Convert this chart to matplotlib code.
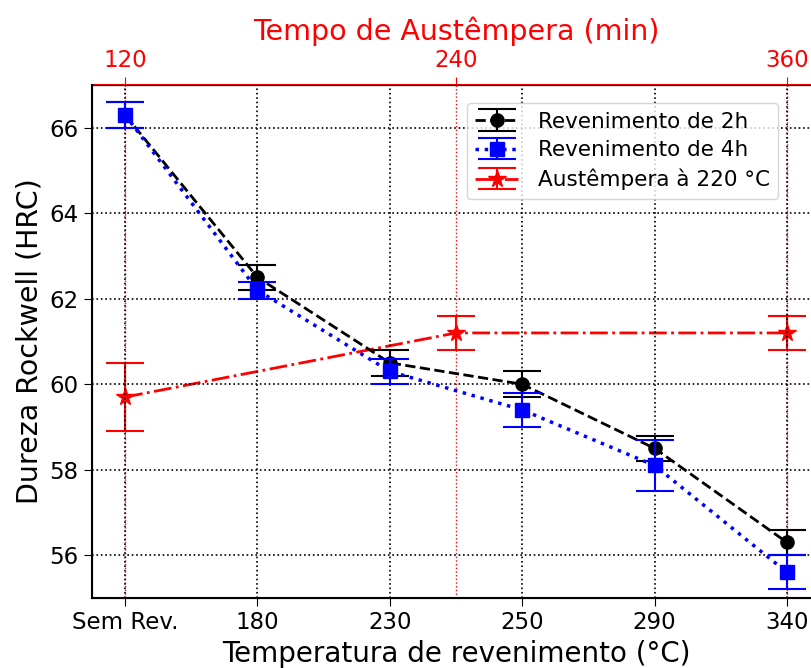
import matplotlib
matplotlib.use("Agg")
import matplotlib.pyplot as plt

# Tempering temperatures (categorical) and hardness results
temps = ["Sem Rev.", "180", "230", "250", "290", "340"]
hrc_2h = [66.3, 62.5, 60.5, 60.0, 58.5, 56.3]
err_2h = [0.3, 0.3, 0.3, 0.3, 0.3, 0.3]
hrc_4h = [66.3, 62.2, 60.3, 59.4, 58.1, 55.6]
err_4h = [0.3, 0.2, 0.3, 0.4, 0.6, 0.4]

# Austempering at 220 C, time in minutes (top axis)
aust_time = [120, 240, 360]
hrc_aust = [59.7, 61.2, 61.2]
err_aust = [0.8, 0.4, 0.4]

fig = plt.figure(figsize=(8.12, 6.68), dpi=100)
ax = fig.add_axes([0.1133, 0.1048, 0.8966, 0.768])

x = list(range(len(temps)))
ax.errorbar(x, hrc_2h, yerr=err_2h, color="black", ls="--", lw=2, marker="o",
            ms=9.5, capsize=14, elinewidth=1.5, capthick=1.5, zorder=3)
ax.errorbar(x, hrc_4h, yerr=err_4h, color="blue", ls=":", lw=2.5, marker="s",
            ms=9.5, capsize=14, elinewidth=1.5, capthick=1.5, zorder=4)

ax.set_xlim(-0.25, 5.25)
ax.set_ylim(55, 67)
ax.set_xticks(x)
ax.set_xticklabels(temps)
ax.set_yticks([56, 58, 60, 62, 64, 66])
ax.tick_params(labelsize=16.5, length=6)
ax.grid(True, color="black", ls=":", lw=1.2)
ax.set_xlabel("Temperatura de revenimento (°C)", fontsize=20)
ax.set_ylabel("Dureza Rockwell (HRC)", fontsize=20.5)
for side in ("left", "bottom"):
    ax.spines[side].set_linewidth(1.5)

# top axis: austempering time, 120 min lines up with "Sem Rev."
ax2 = ax.twiny()
ax2.errorbar(aust_time, hrc_aust, yerr=err_aust, color="red", ls="-.", lw=2,
             marker="*", ms=13, capsize=14, elinewidth=1.5, capthick=1.5, zorder=3)
ax2.set_xlim(108, 372)
ax2.set_xticks(aust_time)
ax2.tick_params(axis="x", colors="red", labelsize=16.5, length=6)
ax2.grid(True, axis="x", color="red", ls=":", lw=1)
ax2.spines["top"].set_color("red")
ax2.spines["top"].set_linewidth(1.5)
ax2.set_xlabel("Tempo de Austêmpera (min)", color="red", fontsize=20.5, labelpad=6)
ax2.set_zorder(ax.get_zorder() - 1)
ax.patch.set_visible(False)

eb = ax.containers + ax2.containers
ax.legend(eb, ["Revenimento de 2h", "Revenimento de 4h", "Austêmpera à 220 °C"],
          loc="upper left", bbox_to_anchor=(0.5, 0.986), fontsize=15.5,
          handlelength=2.0, handletextpad=0.9, labelspacing=0.4, borderpad=0.4)

fig.savefig("out.png", dpi=100)
